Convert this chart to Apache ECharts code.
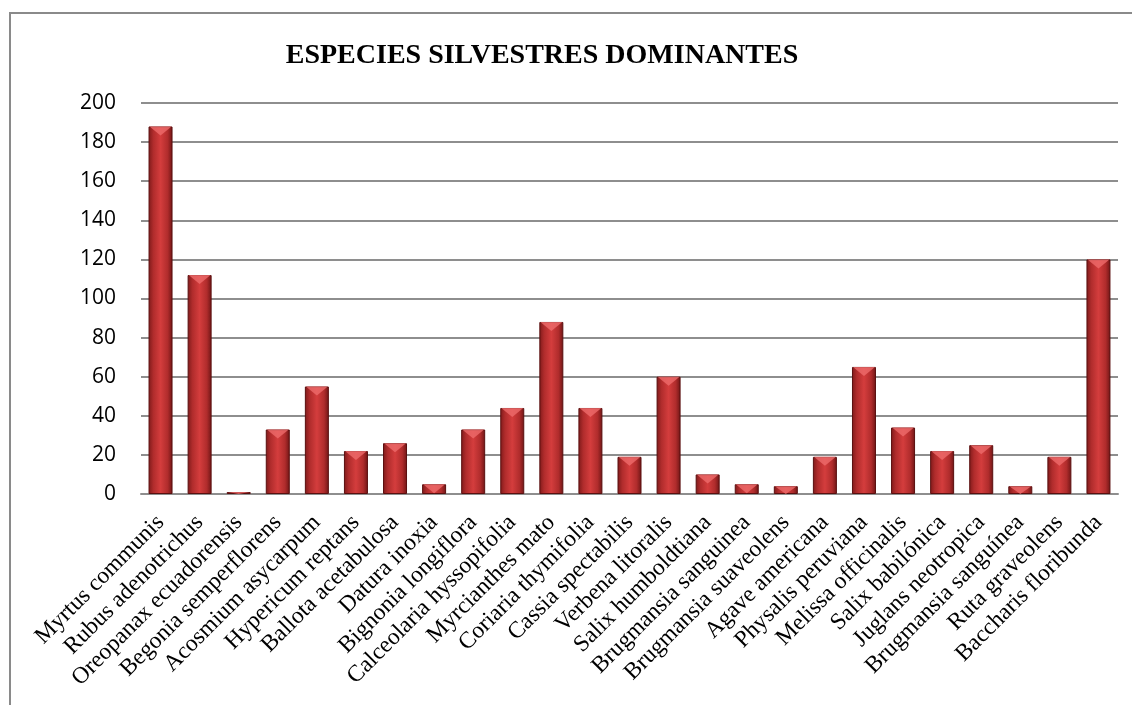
<!DOCTYPE html>
<html>
<head>
<meta charset="utf-8">
<script src="https://cdn.jsdelivr.net/npm/echarts@6/dist/echarts.min.js"></script>
<style>
  html, body { margin: 0; padding: 0; background: #fff; }
  #chart { width: 1132px; height: 705px; }
</style>
</head>
<body>
<div id="chart"></div>
<script>
const titleText = 'ESPECIES SILVESTRES DOMINANTES'
const especies = [
  'Myrtus communis', 'Rubus adenotrichus', 'Oreopanax ecuadorensis', 'Begonia semperflorens',
  'Acosmium asycarpum', 'Hypericum reptans', 'Ballota acetabulosa', 'Datura inoxia',
  'Bignonia longiflora', 'Calceolaria hyssopifolia', 'Myrcianthes mato', 'Coriaria thymifolia',
  'Cassia spectabilis', 'Verbena litoralis', 'Salix humboldtiana', 'Brugmansia sanguinea',
  'Brugmansia suaveolens', 'Agave americana', 'Physalis peruviana', 'Melissa officinalis',
  'Salix babilónica', 'Juglans neotropica', 'Brugmansia sanguínea', 'Ruta graveolens',
  'Baccharis floribunda'
]
const cantidad = [188, 112, 1, 33, 55, 22, 26, 5, 33, 44, 88, 44, 19, 60, 10, 5, 4, 19, 65, 34, 22, 25, 4, 19, 120]
const yTicks = { min: 0, max: 200, interval: 20 }

const chart = echarts.init(document.querySelector('#chart'))

// alto del bisel segun el valor (no mas alto que la barra)
const pxPorUnidad = 391 / 200

const option = {
  animation: false,
  backgroundColor: '#fff',
  title: {
    text: titleText,
    left: 537,
    top: 37,
    textAlign: 'center',
    textStyle: {
      fontFamily: 'Liberation Serif',
      fontWeight: 'bold',
      fontSize: 28,
      color: '#000'
    }
  },
  graphic: [
    {
      type: 'rect',
      shape: { x: 10, y: 13, width: 1140, height: 720 },
      style: { fill: 'none', stroke: '#8a8a8a', lineWidth: 2 },
      silent: true
    }
  ],
  grid: { left: 141, right: 14, top: 103, bottom: 211 },
  xAxis: {
    type: 'category',
    data: especies,
    axisLine: { lineStyle: { color: '#8e8e8e', width: 2 } },
    axisTick: { show: false },
    axisLabel: {
      interval: 0,
      rotate: 45,
      margin: 25,
      fontFamily: 'Liberation Serif',
      fontSize: 23.5,
      color: '#000'
    }
  },
  yAxis: {
    type: 'value',
    min: yTicks.min,
    max: yTicks.max,
    interval: yTicks.interval,
    axisLine: { show: false },
    axisTick: { show: false },
    splitLine: { lineStyle: { color: '#8e8e8e', width: 2 } },
    axisLabel: {
      margin: 25,
      fontFamily: 'Open Sans',
      fontSize: 21,
      color: '#000'
    }
  },
  series: [
    {
      type: 'bar',
      data: cantidad,
      barWidth: 24,
      itemStyle: {
        borderColor: '#5a0f0f',
        borderWidth: 1,
        color: new echarts.graphic.LinearGradient(0, 0, 1, 0, [
          { offset: 0, color: '#7e1a1a' },
          { offset: 0.2, color: '#b02c2c' },
          { offset: 0.5, color: '#d43d3d' },
          { offset: 0.8, color: '#b02c2c' },
          { offset: 1, color: '#6e1515' }
        ])
      }
    },
    {
      // bisel de la parte de arriba
      type: 'scatter',
      data: cantidad,
      symbol: 'triangle',
      symbolRotate: 180,
      symbolSize: (v) => [22, Math.max(2, Math.min(9, v * pxPorUnidad))],
      symbolOffset: [0, '50%'],
      itemStyle: { color: '#ee6b6b' },
      z: 3
    }
  ]
}
chart.setOption(option)
</script>
</body>
</html>
